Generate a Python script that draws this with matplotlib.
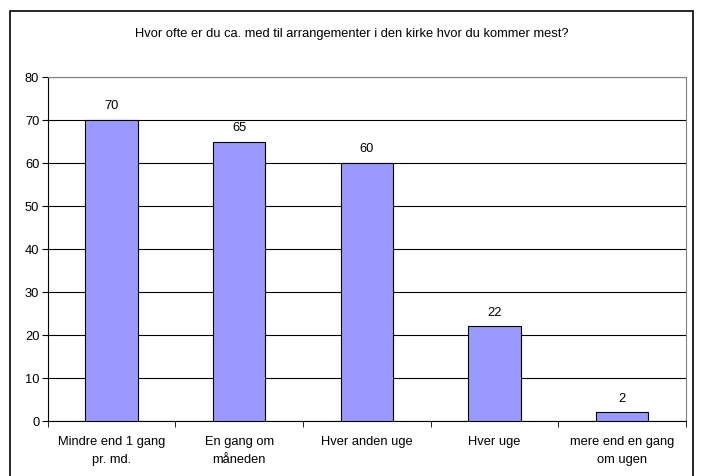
import matplotlib
matplotlib.use("Agg")
import matplotlib.pyplot as plt
from matplotlib.patches import Rectangle

# data
categories = ["Mindre end 1 gang\npr. md.", "En gang om\nm\u00e5neden", "Hver anden uge",
              "Hver uge", "mere end en gang\nom ugen"]
values = [70, 65, 60, 22, 2]
yticks = [0, 10, 20, 30, 40, 50, 60, 70, 80]
title = "Hvor ofte er du ca. med til arrangementer i den kirke hvor du kommer mest?"

plt.rcParams['font.family'] = ['Liberation Sans', 'DejaVu Sans']
fs = 9.3

fig = plt.figure(figsize=(7.03, 4.77), dpi=100)
ax = fig.add_axes([47.7 / 703, 1 - 422 / 477, (686 - 47.7) / 703, (422 - 78) / 477])

# outer chart border
fig.patches.append(Rectangle((10 / 703, -0.05), (693 - 10) / 703, 1 - 12 / 477 + 0.05,
                             transform=fig.transFigure, fill=False,
                             edgecolor="black", linewidth=1.2))

x = list(range(len(values)))
ax.bar(x, values, width=0.41, color="#9999FF", edgecolor="black", linewidth=0.8, zorder=3)

for xi, v in zip(x, values):
    ax.text(xi, v + 2.0, str(v), ha="center", va="bottom", fontsize=fs)

ax.set_xlim(-0.5, len(values) - 0.5)
ax.set_ylim(0, 80)
ax.set_yticks(yticks)
ax.tick_params(axis="y", labelsize=fs, length=4, direction="out", pad=2)
ax.grid(axis="y", color="black", linewidth=0.8, zorder=0)

# category labels centred, tick marks at the boundaries
ax.set_xticks(x)
ax.set_xticklabels(categories, fontsize=fs, linespacing=1.65)
ax.tick_params(axis="x", length=0, pad=10)
ax.set_xticks([i - 0.5 for i in range(len(values) + 1)], minor=True)
ax.tick_params(axis="x", which="minor", length=4, direction="out")

for s in ["top", "right"]:
    ax.spines[s].set_color("#808080")
    ax.spines[s].set_linewidth(0.8)
for s in ["left", "bottom"]:
    ax.spines[s].set_color("black")
    ax.spines[s].set_linewidth(0.8)

fig.text(0.5, 1 - 34 / 477, title, ha="center", va="center", fontsize=fs)

fig.savefig("out.png", dpi=100)
